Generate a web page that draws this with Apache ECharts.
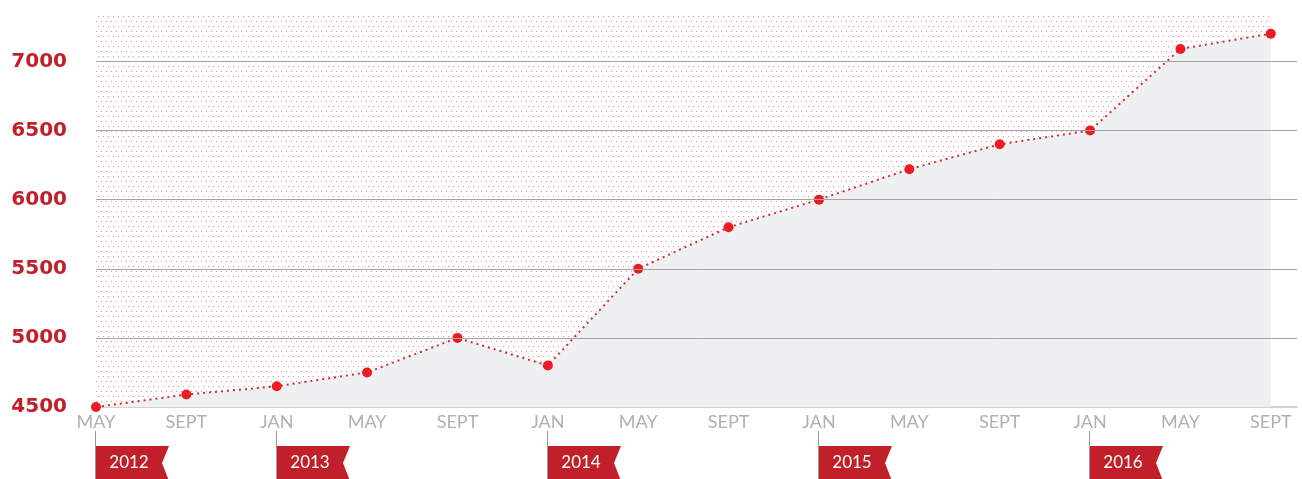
<!DOCTYPE html>
<html>
<head>
<meta charset="utf-8">
<script src="https://cdn.jsdelivr.net/npm/echarts@6/dist/echarts.min.js"></script>
<style>
  html, body { margin: 0; padding: 0; background: #fff; }
  #chart { width: 1302px; height: 479px; }
</style>
</head>
<body>
<div id="chart"></div>
<script>
var months = ['MAY', 'SEPT', 'JAN', 'MAY', 'SEPT', 'JAN', 'MAY', 'SEPT', 'JAN', 'MAY', 'SEPT', 'JAN', 'MAY', 'SEPT']
var values = [4500, 4590, 4650, 4750, 5000, 4800, 5500, 5800, 6000, 6220, 6400, 6500, 7090, 7200]
var yTicks = [5000, 5500, 6000, 6500, 7000]
var years = ['2012', '2013', '2014', '2015', '2016']
var yearIndex = [0, 2, 5, 8, 11]

// dotted pink fill for the area above the line
function dotPattern() {
  var c = document.createElement('canvas')
  c.width = 5
  c.height = 10
  var ctx = c.getContext('2d')
  ctx.fillStyle = 'rgba(238, 60, 60, 0.6)'
  ctx.fillRect(1, 1, 1, 1)
  ctx.fillRect(3, 6, 1, 1)
  return c
}

var chart = echarts.init(document.getElementById('chart'))

var option = {
  animation: false,
  grid: { left: 96, right: 5, top: 13, bottom: 72 },
  xAxis: {
    type: 'value',
    min: 0,
    max: 13.29,
    interval: 1,
    axisLine: { lineStyle: { color: '#c4c4c4', width: 1.5 } },
    axisTick: { show: false },
    splitLine: { show: false },
    axisLabel: {
      showMaxLabel: false,
      margin: 6,
      color: '#b0b0b0',
      fontFamily: 'Lato',
      fontSize: 18,
      formatter: function (v) {
        return Number.isInteger(v) && months[v] ? months[v] : ''
      }
    }
  },
  yAxis: {
    type: 'value',
    min: 4500,
    max: 7350,
    interval: 500,
    axisLine: { show: false },
    axisTick: { show: false },
    splitLine: { show: false },
    axisLabel: {
      showMaxLabel: false,
      margin: 29,
      color: '#c1202b',
      fontFamily: 'DejaVu Sans',
      fontWeight: 'bold',
      fontSize: 20,
      formatter: function (v) {
        return v % 500 === 0 ? String(v) : ''
      }
    }
  },
  series: [
    {
      type: 'line',
      z: 1,
      silent: true,
      data: [],
      markArea: {
        silent: true,
        itemStyle: { color: { image: dotPattern(), repeat: 'repeat' } },
        data: [[{ xAxis: 0, yAxis: 4500 }, { xAxis: values.length - 1, yAxis: 7350 }]]
      }
    },
    {
      type: 'line',
      z: 3,
      data: values.map(function (v, i) { return [i, v] }),
      symbol: 'circle',
      symbolSize: 10,
      itemStyle: { color: '#ed1c24' },
      lineStyle: { color: '#d42a32', width: 2, type: [2, 4] },
      areaStyle: { color: '#eff0f2', opacity: 1 },
      markLine: {
        silent: true,
        symbol: ['none', 'none'],
        label: { show: false },
        lineStyle: { color: '#a4a4a4', width: 1, type: 'solid' },
        data: yTicks.map(function (t) { return { yAxis: t } })
      }
    }
  ]
}

chart.setOption(option)

// year flags hanging under the x axis
var graphics = []
yearIndex.forEach(function (idx, k) {
  var x = Math.round(chart.convertToPixel({ xAxisIndex: 0 }, idx)) - 1
  graphics.push({
    type: 'line',
    shape: { x1: x + 0.5, y1: 431, x2: x + 0.5, y2: 479 },
    style: { stroke: '#9a9a9a', lineWidth: 1 }
  })
  graphics.push({
    type: 'polygon',
    shape: { points: [[x + 1, 446], [x + 74, 446], [x + 67, 463], [x + 74, 481], [x + 1, 481]] },
    style: { fill: '#c1202b' }
  })
  graphics.push({
    type: 'text',
    x: x + 34,
    y: 463,
    style: {
      text: years[k],
      fill: '#fff',
      font: '17px Lato',
      align: 'center',
      verticalAlign: 'middle'
    }
  })
})
chart.setOption({ graphic: graphics })
</script>
</body>
</html>
